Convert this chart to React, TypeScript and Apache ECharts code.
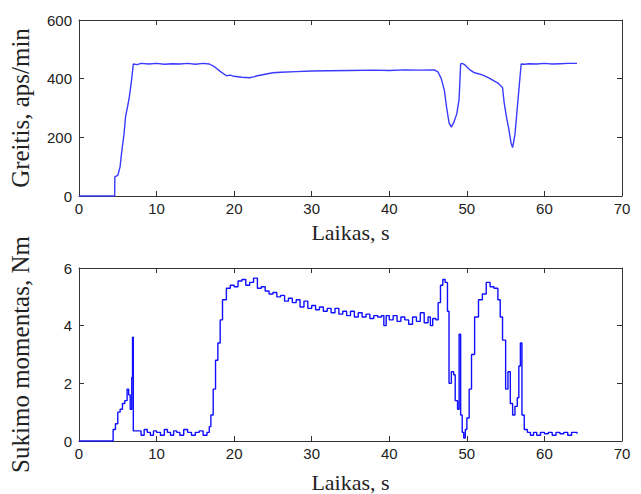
import React, { useEffect, useRef } from "react";
import * as echarts from "echarts";

// Speed (top chart): time in s, speed in aps/min
const speedTime = [0, 4.6, 4.62, 5.0, 5.3, 5.5, 5.8, 6.0, 6.3, 6.5, 6.8, 7.0, 7.5, 8, 9, 10, 11, 12, 13, 14, 15, 16, 16.8, 17.5, 18.2, 19, 19.5, 20, 21, 22, 22.5, 23, 24, 25, 26, 28, 30, 32, 35, 38, 40, 42, 44, 45.8, 46.3, 46.7, 47.1, 47.4, 47.7, 48.0, 48.3, 48.7, 49.0, 49.2, 49.4, 49.7, 50.0, 50.5, 51, 52, 53, 54, 54.6, 54.8, 55.1, 55.4, 55.7, 55.9, 56.2, 56.5, 56.8, 57.0, 57.5, 58, 59, 60, 61, 62, 63, 64.2];
const speedValues = [0, 0, 65, 70, 100, 150, 210, 270, 310, 340, 400, 450, 448, 452, 450, 452, 449, 451, 450, 452, 449, 452, 450, 440, 425, 410, 412, 408, 405, 403, 406, 410, 415, 420, 422, 424, 426, 427, 428, 429, 428, 430, 429, 430, 422, 400, 360, 300, 250, 235, 250, 280, 330, 450, 452, 448, 440, 428, 420, 413, 400, 385, 370, 320, 270, 230, 180, 165, 210, 300, 390, 450, 449, 451, 450, 452, 450, 451, 452, 452];

// Torque (bottom chart): time in s, torque in Nm
const torqueTime = [0, 4.2, 4.4, 4.7, 5.0, 5.3, 5.6, 5.9, 6.2, 6.4, 6.6, 6.8, 6.9, 7.0, 7.5, 8.0, 8.4, 8.8, 9.2, 9.6, 10.0, 10.5, 11.0, 11.4, 11.8, 12.2, 12.6, 13.0, 13.5, 14.0, 14.5, 15.0, 15.5, 16.0, 16.5, 16.8, 17.0, 17.3, 17.6, 17.9, 18.2, 18.5, 19.0, 19.5, 20.0, 20.5, 21.0, 21.5, 22.0, 22.5, 23.0, 23.5, 24.0, 24.5, 25.0, 25.5, 26.0, 26.5, 27.0, 27.5, 28.0, 28.5, 29.0, 29.5, 30.0, 30.5, 31.0, 31.5, 32.0, 32.5, 33.0, 33.5, 34.0, 34.5, 35.0, 35.5, 36.0, 36.5, 37.0, 37.5, 38.0, 38.5, 39.0, 39.3, 39.6, 40.0, 40.5, 41.0, 41.5, 42.0, 42.5, 43.0, 43.5, 44.0, 44.5, 45.0, 45.3, 45.6, 46.0, 46.3, 46.6, 46.9, 47.2, 47.5, 47.7, 48.0, 48.3, 48.5, 48.8, 49.0, 49.2, 49.4, 49.6, 49.8, 50.0, 50.3, 50.6, 51.0, 51.5, 52.0, 52.5, 53.0, 53.5, 54.0, 54.3, 54.6, 55.0, 55.3, 55.6, 55.9, 56.2, 56.5, 56.7, 56.9, 57.1, 57.4, 57.8, 58.2, 58.6, 59.0, 59.5, 60.0, 60.5, 61.0, 61.5, 62.0, 62.5, 63.0, 63.5, 64.2];
const torqueValues = [0, 0, 0.4, 0.6, 1.0, 1.1, 1.3, 1.4, 1.8, 1.6, 1.1, 2.2, 3.6, 0.35, 0.35, 0.2, 0.4, 0.3, 0.2, 0.35, 0.3, 0.2, 0.4, 0.3, 0.2, 0.35, 0.3, 0.2, 0.4, 0.3, 0.2, 0.3, 0.35, 0.2, 0.3, 0.5, 0.9, 1.8, 2.8, 3.4, 4.2, 4.9, 5.3, 5.4, 5.35, 5.55, 5.6, 5.4, 5.5, 5.65, 5.3, 5.35, 5.2, 5.1, 5.15, 5.0, 5.05, 4.85, 4.95, 4.8, 4.9, 4.65, 4.85, 4.6, 4.7, 4.55, 4.65, 4.5, 4.6, 4.45, 4.6, 4.4, 4.5, 4.35, 4.5, 4.3, 4.45, 4.3, 4.4, 4.25, 4.35, 4.3, 4.35, 4.0, 4.35, 4.2, 4.35, 4.15, 4.3, 4.2, 4.05, 4.3, 4.15, 4.45, 4.1, 4.3, 4.0, 4.25, 4.2, 4.8, 5.4, 5.6, 5.5, 4.5, 2.0, 2.4, 2.3, 1.4, 1.1, 3.7, 0.9, 0.3, 0.1, 0.4, 0.8, 1.8, 3.0, 4.3, 4.9, 5.1, 5.5, 5.35, 5.3, 4.9, 4.3, 3.5, 1.8, 2.4, 1.3, 0.9, 1.2, 1.5, 2.6, 3.4, 0.9, 0.4, 0.3, 0.2, 0.3, 0.2, 0.3, 0.25, 0.3, 0.2, 0.3, 0.25, 0.3, 0.2, 0.3, 0.25];

const xTicksMax = 70;
const speedMax = 600;
const torqueMax = 6;

const axisColor = "#333";
const labelFont = "'Liberation Sans Narrow', 'Liberation Sans', Arial, sans-serif";
const titleFont = "'Liberation Serif', 'Times New Roman', serif";

export default function App() {
  const ref = useRef<HTMLDivElement>(null);
  useEffect(() => {
    if (!ref.current) return;
    const chart = echarts.init(ref.current, undefined, { renderer: "svg" });
    const speedData = speedTime.map((t, i) => [t, speedValues[i]]);
    const torqueData = torqueTime.map((t, i) => [t, torqueValues[i]]);

    const mkX = (gridIndex: number, bottom: boolean, gap: number) => ({
      type: "value",
      gridIndex,
      position: bottom ? "bottom" : "top",
      min: 0,
      max: xTicksMax,
      interval: 10,
      name: bottom ? "Laikas, s" : "",
      nameLocation: "middle",
      nameGap: gap,
      nameTextStyle: { fontFamily: titleFont, fontSize: 22, color: "#222" },
      axisLine: { show: true, onZero: false, lineStyle: { color: axisColor, width: 1 } },
      axisTick: { show: true, inside: true, length: 5, lineStyle: { color: axisColor } },
      axisLabel: { show: bottom, fontFamily: labelFont, fontSize: 15, color: "#222", margin: 5 },
      splitLine: { show: false },
    });
    const mkY = (gridIndex: number, left: boolean, max: number, interval: number, name: string) => ({
      type: "value",
      gridIndex,
      position: left ? "left" : "right",
      min: 0,
      max,
      interval,
      name: left ? name : "",
      nameLocation: "middle",
      nameGap: 46,
      nameTextStyle: { fontFamily: titleFont, fontSize: 25, color: "#222" },
      axisLine: { show: true, onZero: false, lineStyle: { color: axisColor, width: 1 } },
      axisTick: { show: true, inside: true, length: 5, lineStyle: { color: axisColor } },
      axisLabel: { show: left, fontFamily: labelFont, fontSize: 15, color: "#222", margin: 7 },
      splitLine: { show: false },
    });

    chart.setOption({
      animation: false,
      backgroundColor: "#fff",
      grid: [
        { left: 79, right: 19, top: 20, height: 176 },
        { left: 79, right: 19, top: 268, height: 177 },
      ],
      xAxis: [mkX(0, true, 25), mkX(0, false, 0), mkX(1, true, 30), mkX(1, false, 0)],
      yAxis: [
        mkY(0, true, speedMax, 200, "Greitis, aps/min"),
        mkY(0, false, speedMax, 200, ""),
        mkY(1, true, torqueMax, 2, "Sukimo momentas, Nm"),
        mkY(1, false, torqueMax, 2, ""),
      ],
      series: [
        {
          type: "line",
          xAxisIndex: 0,
          yAxisIndex: 0,
          data: speedData,
          showSymbol: false,
          lineStyle: { color: "#3a3aff", width: 1.4 },
        },
        {
          type: "line",
          xAxisIndex: 2,
          yAxisIndex: 2,
          data: torqueData,
          step: "end",
          showSymbol: false,
          lineStyle: { color: "#1010ff", width: 1.4 },
        },
      ],
    });
    return () => chart.dispose();
  }, []);
  return (
    <div
      ref={ref}
      style={{ position: "fixed", left: 0, top: 0, width: 641, height: 494, background: "#fff" }}
    />
  );
}
